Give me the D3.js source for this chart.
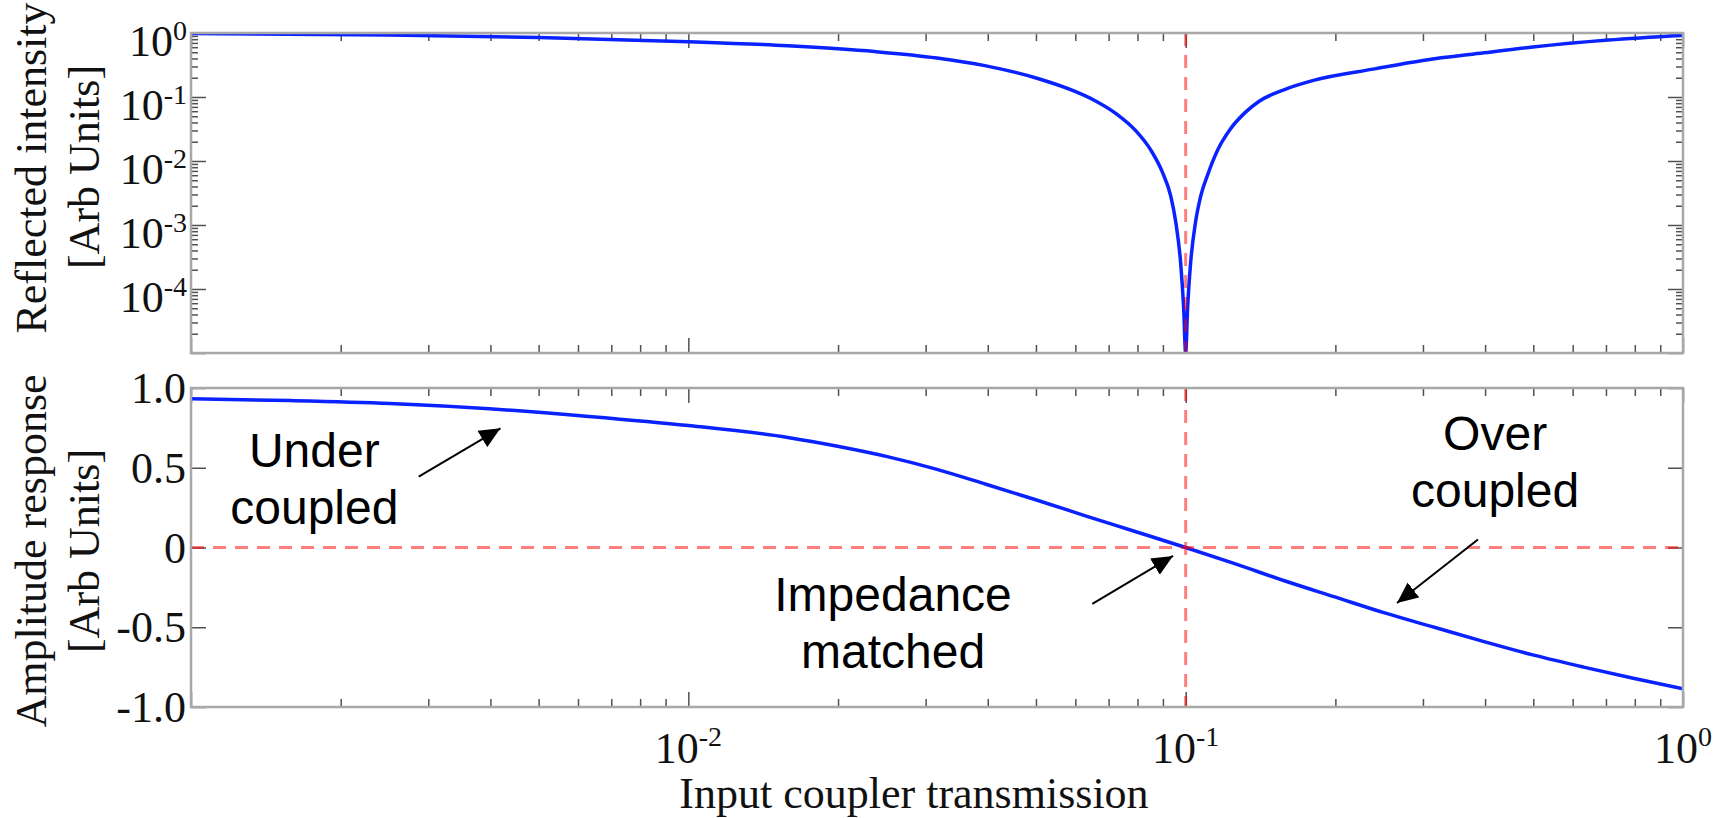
<!DOCTYPE html>
<html><head><meta charset="utf-8">
<script src="https://cdn.jsdelivr.net/npm/d3@7"></script>
<style>html,body{margin:0;padding:0;background:#fff;overflow:hidden}svg{display:block}</style>
</head><body>
<svg id="chart" width="1718" height="818"></svg>
<script>
// ---------- data ----------
const transmissionTop = [0.001, 0.002512, 0.005012, 0.01, 0.01585, 0.02371, 0.03162, 0.03945, 0.05082, 0.06026, 0.06546, 0.07244, 0.07943, 0.08511, 0.08974, 0.09333, 0.09550, 0.09772, 0.09908, 0.1,
  0.1009, 0.1023, 0.1047, 0.1072, 0.1109, 0.1161, 0.1230, 0.1318, 0.1403, 0.1585, 0.1807, 0.2399, 0.2999, 0.3981, 0.4989, 0.7079, 1];
const reflectedIntensity = [0.982, 0.933, 0.851, 0.733, 0.631, 0.513, 0.407, 0.309, 0.191, 0.120, 0.0891, 0.0550, 0.0295, 0.0148, 0.00676, 0.00282, 0.00112, 0.000251, 0.0000501, 0.00001,
  0.0000501, 0.000251, 0.00112, 0.00282, 0.00631, 0.0151, 0.0316, 0.0575, 0.0851, 0.132, 0.182, 0.275, 0.372, 0.490, 0.603, 0.776, 0.925];

const transmissionBottom = [0.001, 0.001585, 0.002512, 0.003981, 0.00631, 0.01, 0.01585, 0.01995, 0.02512, 0.03162, 0.03981, 0.05012, 0.0631, 0.07943, 0.1, 0.1259, 0.1585, 0.1995, 0.2512, 0.3162, 0.3981, 0.5012, 0.631, 0.7943, 1];
const amplitudeResponse = [0.932, 0.921, 0.903, 0.870, 0.822, 0.765, 0.690, 0.635, 0.570, 0.490, 0.395, 0.298, 0.197, 0.099, 0.0, -0.103, -0.210, -0.310, -0.410, -0.500, -0.590, -0.675, -0.750, -0.820, -0.886];

const matchedTransmission = 0.1;

const xLabelValues = [1e-2, 1e-1, 1];
const xLabelExponents = ["-2", "-1", "0"];
const topYLabelValues = [1, 1e-1, 1e-2, 1e-3, 1e-4];
const topYLabelExponents = ["0", "-1", "-2", "-3", "-4"];
const bottomYLabelValues = [1, 0.5, 0, -0.5, -1];
const bottomYLabels = ["1.0", "0.5", "0", "-0.5", "-1.0"];

const xTitle = "Input coupler transmission";
const topYTitle = ["Reflected intensity", "[Arb Units]"];
const bottomYTitle = ["Amplitude response", "[Arb Units]"];

// annotations in data coordinates (transmission, amplitude)
const annotationTexts = [
  {lines: ["Under", "coupled"], t: 0.00177, v: 0.505},
  {lines: ["Impedance", "matched"], t: 0.0258, v: -0.398},
  {lines: ["Over", "coupled"], t: 0.419, v: 0.611}
];
const annotationArrows = [
  {t0: 0.00287, v0: 0.444, t1: 0.00419, v1: 0.747},
  {t0: 0.0649, v0: -0.354, t1: 0.0943, v1: -0.053},
  {t0: 0.387, v0: 0.05, t1: 0.266, v1: -0.348}
];

// ---------- layout ----------
const svg = d3.select("#chart");
const L = 191, R = 1683;
const P1 = {top: 33, bottom: 353};
const P2 = {top: 388, bottom: 707};
const serif = "'Liberation Serif','Times New Roman',serif";
const sans = "'Liberation Sans',Arial,sans-serif";

const x = d3.scaleLog().domain([1e-3, 1]).range([L, R]);
const y1 = d3.scaleLog().domain([1e-5, 1]).range([P1.bottom, P1.top]);
const y2 = d3.scaleLinear().domain([-1, 1]).range([P2.bottom, P2.top]);

const decadeMinors = (lo, hi) => { const a = []; for (let d = lo; d < hi * 0.999; d *= 10) for (let k = 2; k <= 9; k++) a.push(d * k); return a; };
const xMajor = [1e-3, 1e-2, 1e-1, 1];
const xMinor = decadeMinors(1e-3, 1);
const y1Major = [1e-5, 1e-4, 1e-3, 1e-2, 1e-1, 1];
const y1Minor = decadeMinors(1e-5, 1);
const y2Major = bottomYLabelValues;

const defs = svg.append("defs");
[["clip1", P1], ["clip2", P2]].forEach(([id, p]) => {
  defs.append("clipPath").attr("id", id).append("rect")
    .attr("x", L).attr("y", p.top).attr("width", R - L).attr("height", p.bottom - p.top);
});
defs.append("marker").attr("id", "arrow").attr("markerUnits", "userSpaceOnUse")
  .attr("viewBox", "0 0 22 20").attr("markerWidth", 22).attr("markerHeight", 20)
  .attr("refX", 21).attr("refY", 10).attr("orient", "auto")
  .append("path").attr("d", "M0,0.5 L21,10 L0,19.5 Z").attr("fill", "#000");

function tickGroup(axis, tx, ty) {
  const g = svg.append("g").attr("transform", `translate(${tx},${ty})`).call(axis);
  g.select(".domain").remove();
  g.selectAll(".tick line").attr("stroke", "#505050").attr("stroke-width", 1.5);
  g.selectAll(".tick text").remove();
  return g;
}

function panelTicks(p, y, yMajor, yMinor) {
  tickGroup(d3.axisBottom(x).tickValues(xMajor).tickSize(-15).tickFormat(""), 0, p.bottom);
  tickGroup(d3.axisBottom(x).tickValues(xMinor).tickSize(-8).tickFormat(""), 0, p.bottom);
  tickGroup(d3.axisTop(x).tickValues(xMajor).tickSize(-15).tickFormat(""), 0, p.top);
  tickGroup(d3.axisTop(x).tickValues(xMinor).tickSize(-8).tickFormat(""), 0, p.top);
  tickGroup(d3.axisLeft(y).tickValues(yMajor).tickSize(-15).tickFormat(""), L, 0);
  tickGroup(d3.axisRight(y).tickValues(yMajor).tickSize(-15).tickFormat(""), R, 0);
  if (yMinor) {
    tickGroup(d3.axisLeft(y).tickValues(yMinor).tickSize(-7).tickFormat(""), L, 0);
    tickGroup(d3.axisRight(y).tickValues(yMinor).tickSize(-7).tickFormat(""), R, 0);
  }
}
panelTicks(P1, y1, y1Major, y1Minor);
panelTicks(P2, y2, y2Major, null);

// ---------- curves ----------
const topData = transmissionTop.map((t, i) => [t, reflectedIntensity[i]]);
const bottomData = transmissionBottom.map((t, i) => [t, amplitudeResponse[i]]);

const blue = "#0a22ff";
svg.append("g").attr("clip-path", "url(#clip1)").append("path")
  .datum(topData)
  .attr("d", d3.line().x(d => x(d[0])).y(d => y1(d[1])).curve(d3.curveMonotoneX))
  .attr("fill", "none").attr("stroke", blue).attr("stroke-width", 3.5).attr("stroke-linejoin", "round");

svg.append("g").attr("clip-path", "url(#clip2)").append("path")
  .datum(bottomData)
  .attr("d", d3.line().x(d => x(d[0])).y(d => y2(d[1])).curve(d3.curveMonotoneX))
  .attr("fill", "none").attr("stroke", blue).attr("stroke-width", 3.5);

// red dashed reference lines
const dash = g => g.attr("stroke", "#ff0000").attr("stroke-opacity", 0.5).attr("stroke-width", 3).attr("stroke-dasharray", "13,9");
svg.append("line").attr("x1", x(matchedTransmission)).attr("x2", x(matchedTransmission))
  .attr("y1", y1.range()[1]).attr("y2", y1.range()[0]).call(dash);
svg.append("line").attr("x1", x(matchedTransmission)).attr("x2", x(matchedTransmission))
  .attr("y1", y2(1)).attr("y2", y2(-1)).call(dash);
svg.append("line").attr("x1", x(1e-3)).attr("x2", x(1))
  .attr("y1", y2(0)).attr("y2", y2(0)).call(dash);

// boxes
[P1, P2].forEach(p => svg.append("rect").attr("x", L).attr("y", p.top)
  .attr("width", R - L).attr("height", p.bottom - p.top)
  .attr("fill", "none").attr("stroke", "#a8a8a8").attr("stroke-width", 2.5));

// ---------- tick labels ----------
xLabelValues.forEach((v, i) => {
  const t = svg.append("text").attr("x", x(v)).attr("y", P2.bottom + 56)
    .attr("text-anchor", "middle").attr("font-family", serif).attr("font-size", 44).attr("fill", "#111");
  t.append("tspan").text("10");
  t.append("tspan").attr("font-size", 28).attr("dy", -17).text(xLabelExponents[i]);
});
topYLabelValues.forEach((v, i) => {
  const t = svg.append("text").attr("x", 187).attr("y", y1(v) + 23)
    .attr("text-anchor", "end").attr("font-family", serif).attr("font-size", 44).attr("fill", "#111");
  t.append("tspan").text("10");
  t.append("tspan").attr("font-size", 28).attr("dy", -16).text(topYLabelExponents[i]);
});
bottomYLabelValues.forEach((v, i) => {
  svg.append("text").attr("x", 186).attr("y", y2(v) + 15)
    .attr("text-anchor", "end").attr("font-family", serif).attr("font-size", 44).attr("fill", "#111")
    .text(bottomYLabels[i]);
});

// ---------- axis titles ----------
svg.append("text").attr("x", 914).attr("y", 808).attr("text-anchor", "middle")
  .attr("font-family", serif).attr("font-size", 44).attr("fill", "#111").text(xTitle);

function yTitle(lines, cys, sizes) {
  [46, 99].forEach((bx, i) => {
    svg.append("text").attr("transform", `translate(${bx},${cys[i]}) rotate(-90)`)
      .attr("text-anchor", "middle").attr("font-family", serif).attr("font-size", sizes[i]).attr("fill", "#111")
      .text(lines[i]);
  });
}
yTitle(topYTitle, [168, 167], [44, 44]);
yTitle(bottomYTitle, [551, 551], [44, 44]);

// ---------- annotations ----------
annotationTexts.forEach(a => {
  const t = svg.append("text").attr("x", x(a.t)).attr("y", y2(a.v))
    .attr("text-anchor", "middle").attr("font-family", sans).attr("font-size", 48).attr("fill", "#000");
  a.lines.forEach((s, i) => t.append("tspan").attr("x", x(a.t)).attr("dy", i === 0 ? 0 : 57).text(s));
});
annotationArrows.forEach(a => {
  svg.append("line").attr("x1", x(a.t0)).attr("y1", y2(a.v0)).attr("x2", x(a.t1)).attr("y2", y2(a.v1))
    .attr("stroke", "#000").attr("stroke-width", 2).attr("marker-end", "url(#arrow)");
});
</script>
</body></html>
